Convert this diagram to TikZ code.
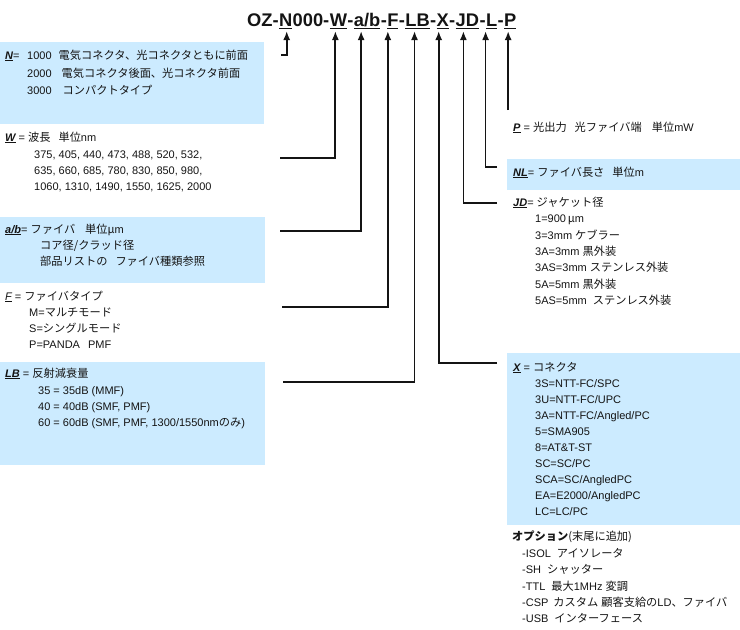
\documentclass[tikz,border=0pt]{standalone}
\usepackage{fontspec}
\setmainfont{Liberation Sans}
\newfontfamily\jp[Scale=1.02]{Noto Sans CJK JP}
\usetikzlibrary{arrows.meta}
\definecolor{boxblue}{RGB}{204,235,255}
\definecolor{ink}{RGB}{20,20,20}
\newcommand\J[1]{{\jp #1}}
\newcommand\myul[3]{\setbox0\hbox{#3}\rlap{\raisebox{-#1}{\rule{\wd0}{#2}}}\box0\relax}
\newcommand\lab[1]{\myul{2pt}{0.9pt}{\bfseries\itshape #1}}
\newcommand\tul[1]{\myul{3pt}{1.5pt}{#1}}
\begin{document}
\begin{tikzpicture}[x=1pt,y=-1pt,
  txt/.style={anchor=base west,inner sep=0pt,font=\fontsize{11}{13}\selectfont,text=ink},
  ttl/.style={anchor=base west,inner sep=0pt,font=\fontsize{18.3}{22}\selectfont\bfseries,text=ink},
  conn/.style={draw=ink,line width=1.8pt},
  arr/.style={conn,-{Latex[length=9pt,width=7pt]}},
  bluebox/.style={fill=boxblue,draw=none}]
\useasboundingbox (0,0) rectangle (740,630);
% background boxes
\path[bluebox] (0,42) rectangle (264,124);
\path[bluebox] (0,217) rectangle (265,283);
\path[bluebox] (0,362) rectangle (265,465);
\path[bluebox] (507,159) rectangle (740,190);
\path[bluebox] (507,353) rectangle (740,525);
% title
\node[ttl] (t0) at (247,26) {OZ-};
\node[ttl] (tN) at (t0.base east) {\tul{N}};
\node[ttl] (t1) at (tN.base east) {000-};
\node[ttl] (tW) at (t1.base east) {\tul{W}};
\node[ttl] (t2) at (tW.base east) {-};
\node[ttl] (tAB) at (t2.base east) {\tul{a/b}};
\node[ttl] (t3) at (tAB.base east) {-};
\node[ttl] (tF) at (t3.base east) {\tul{F}};
\node[ttl] (t4) at (tF.base east) {-};
\node[ttl] (tLB) at (t4.base east) {\tul{LB}};
\node[ttl] (t5) at (tLB.base east) {-};
\node[ttl] (tX) at (t5.base east) {\tul{X}};
\node[ttl] (t6) at (tX.base east) {-};
\node[ttl] (tJD) at (t6.base east) {\tul{JD}};
\node[ttl] (t7) at (tJD.base east) {-};
\node[ttl] (tL) at (t7.base east) {\tul{L}};
\node[ttl] (t8) at (tL.base east) {-};
\node[ttl] (tP) at (t8.base east) {\tul{P}};
% connector ends
\coordinate (tip) at (0,31);
\coordinate (cN) at (281,55);
\coordinate (cW) at (280,158);
\coordinate (cAB) at (280,231);
\coordinate (cF) at (282,307);
\coordinate (cLB) at (283,382);
\coordinate (cX) at (497,363);
\coordinate (cJD) at (497,203);
\coordinate (cL) at (497,167);
\coordinate (yP) at (0,110);
\coordinate (cP) at ([xshift=-2pt]tP.south |- yP);
% connectors
\draw[arr] (cN) -| ([xshift=1pt]tN.south |- tip);
\draw[arr] (cW) -| ([xshift=-3pt]tW.south |- tip);
\draw[arr] (cAB) -| ([xshift=-6pt]tAB.south |- tip);
\draw[arr] (cF) -| ([xshift=-5pt]tF.south |- tip);
\draw[arr] (cLB) -| ([xshift=-3pt]tLB.south |- tip);
\draw[arr] (cX) -| ([xshift=-4pt]tX.south |- tip);
\draw[arr] (cJD) -| ([xshift=-4pt]tJD.south |- tip);
\draw[arr] (cL) -| ([xshift=-6pt]tL.south |- tip);
\draw[arr] (cP) -- ([xshift=-2pt]tP.south |- tip);
% N
\node[txt] (n0) at (5,59) {\lab{N}=};
\node[txt] (n1) at (27,59) {1000\hspace{7pt}\J{電気コネクタ、光コネクタともに前面}};
\node[txt] (n2) at (27,77) {2000\hspace{10pt}\J{電気コネクタ後面、光コネクタ前面}};
\node[txt] (n3) at (27,94) {3000\hspace{11pt}\J{コンパクトタイプ}};
% W
\node[txt] (w0) at (5,141) {\lab{W} = \J{波長}\hspace{8pt}\J{単位}nm};
\node[txt] (w1) at (34,158) {375, 405, 440, 473, 488, 520, 532,};
\node[txt] (w2) at (34,174) {635, 660, 685, 780, 830, 850, 980,};
\node[txt] (w3) at (34,190) {1060, 1310, 1490, 1550, 1625, 2000};
% a/b
\node[txt] (a0) at (5,233) {\lab{a/b}= \J{ファイバ}\hspace{10pt}\J{単位μ}m};
\node[txt] (a1) at (40,249) {\J{コア径/クラッド径}};
\node[txt] (a2) at (40,265) {\J{部品リストの}\hspace{8pt}\J{ファイバ種類参照}};
% F
\node[txt] (f0) at (5,300) {\myul{2pt}{0.9pt}{\itshape F} = \J{ファイバタイプ}};
\node[txt] (f1) at (29,316) {M=\J{マルチモード}};
\node[txt] (f2) at (29,332) {S=\J{シングルモード}};
\node[txt] (f3) at (29,348) {P=PANDA\hspace{8pt}PMF};
% LB
\node[txt] (l0) at (5,377) {\lab{LB} = \J{反射減衰量}};
\node[txt] (l1) at (38,394) {35 = 35dB (MMF)};
\node[txt] (l2) at (38,410) {40 = 40dB (SMF, PMF)};
\node[txt] (l3) at (38,426) {60 = 60dB (SMF, PMF, 1300/1550nm\J{のみ})};
% P, L
\node[txt] (p0) at (513,131) {\lab{P} = \J{光出力}\hspace{8pt}\J{光ファイバ端}\hspace{10pt}\J{単位}mW};
\node[txt] (nl0) at (513,176) {\lab{NL}= \J{ファイバ長さ}\hspace{8pt}\J{単位}m};
% JD
\node[txt] (j0) at (513,206) {\lab{JD}= \J{ジャケット径}};
\node[txt] (j1) at (535,222) {1=900\,\J{μ}m};
\node[txt] (j2) at (535,239) {3=3mm \J{ケブラー}};
\node[txt] (j3) at (535,255) {3A=3mm \J{黒外装}};
\node[txt] (j4) at (535,271) {3AS=3mm \J{ステンレス外装}};
\node[txt] (j5) at (535,288) {5A=5mm \J{黒外装}};
\node[txt] (j6) at (535,304) {5AS=5mm\hspace{6pt}\J{ステンレス外装}};
% X
\node[txt] (x0) at (513,371) {\lab{X} = \J{コネクタ}};
\node[txt] (x1) at (535,387) {3S=NTT-FC/SPC};
\node[txt] (x2) at (535,403) {3U=NTT-FC/UPC};
\node[txt] (x3) at (535,419) {3A=NTT-FC/Angled/PC};
\node[txt] (x4) at (535,435) {5=SMA905};
\node[txt] (x5) at (535,451) {8=AT\&T-ST};
\node[txt] (x6) at (535,467) {SC=SC/PC};
\node[txt] (x7) at (535,483) {SCA=SC/AngledPC};
\node[txt] (x8) at (535,499) {EA=E2000/AngledPC};
\node[txt] (x9) at (535,515) {LC=LC/PC};
% options
\node[txt] (o0) at (512,540) {\J{\bfseries オプション}\J{(末尾に追加)}};
\node[txt] (o1) at (522,557) {-ISOL\hspace{6pt}\J{アイソレータ}};
\node[txt] (o2) at (522,573) {-SH\hspace{6pt}\J{シャッター}};
\node[txt] (o3) at (522,590) {-TTL\hspace{6pt}\J{最大}1MHz \J{変調}};
\node[txt] (o4) at (522,606) {-CSP\hspace{5pt}\J{カスタム}\hspace{3pt}\J{顧客支給の}LD\J{、ファイバ}};
\node[txt] (o5) at (522,622) {-USB\hspace{6pt}\J{インターフェース}};
\end{tikzpicture}
\end{document}
